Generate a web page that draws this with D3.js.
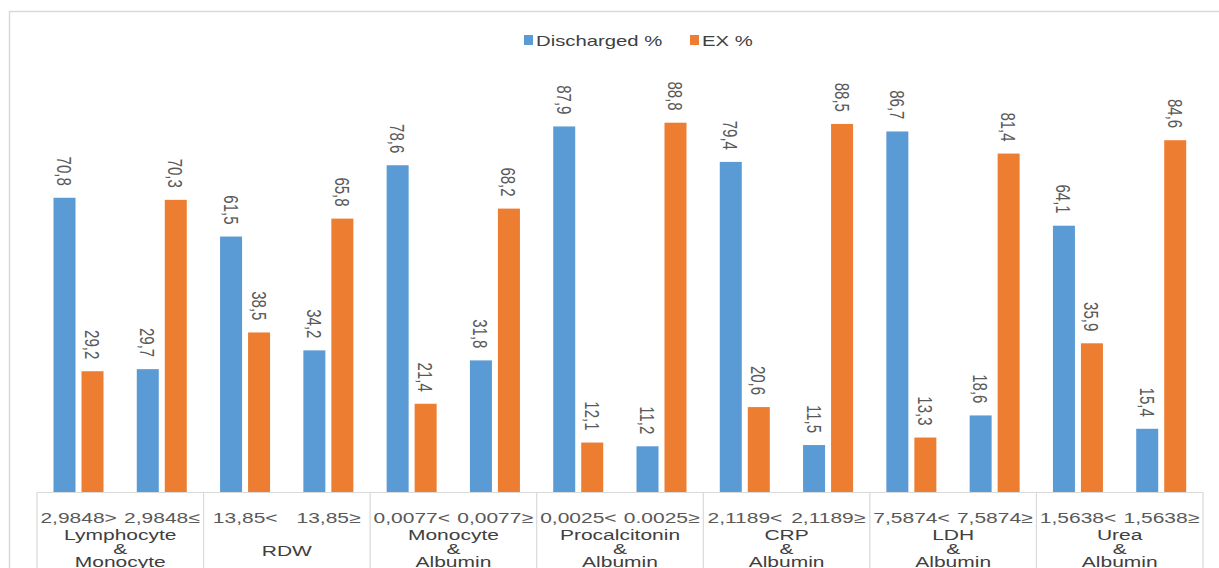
<!DOCTYPE html>
<html>
<head>
<meta charset="utf-8">
<script src="https://cdn.jsdelivr.net/npm/d3@7"></script>
<style>
  html, body { margin: 0; padding: 0; background: #fff; }
  svg { display: block; font-family: "Liberation Sans", Arial, sans-serif; }
</style>
</head>
<body>
<svg id="chart" width="1219" height="568"></svg>
<script>
// Marker groups (each split into two cut-off classes)
const groupNames = [
  "Lymphocyte & Monocyte", "RDW", "Monocyte & Albumin", "Procalcitonin & Albumin",
  "CRP & Albumin", "LDH & Albumin", "Urea & Albumin"
];
const cutoffs = [
  "2,9848>", "2,9848≤", "13,85<", "13,85≥", "0,0077<", "0,0077≥", "0,0025<", "0.0025≥",
  "2,1189<", "2,1189≥", "7,5874<", "7,5874≥", "1,5638<", "1,5638≥"
];
const seriesNames = ["Discharged %", "EX %"];
const discharged = [70.8, 29.7, 61.5, 34.2, 78.6, 31.8, 87.9, 11.2, 79.4, 11.5, 86.7, 18.6, 64.1, 15.4];
const exitus = [29.2, 70.3, 38.5, 65.8, 21.4, 68.2, 12.1, 88.8, 20.6, 88.5, 13.3, 81.4, 35.9, 84.6];

const colors = { "Discharged %": "#5b9bd5", "EX %": "#ed7d31" };
const XS = 1.4; // horizontal text stretch

const svg = d3.select("#chart");

// chart frame
svg.append("rect")
  .attr("x", 9.5).attr("y", 11.5).attr("width", 1300).attr("height", 700)
  .attr("fill", "none").attr("stroke", "#d9d9d9").attr("stroke-width", 1.5);

const x = d3.scaleBand().domain(d3.range(cutoffs.length)).range([37, 1203]).padding(0);
const xSeries = d3.scaleBand().domain(seriesNames).range([16.5, 66.5]).paddingInner(6 / 28);
const y = d3.scaleLinear().domain([0, 100]).range([493, 76]);

const rows = cutoffs.map((c, i) => ({ i, cutoff: c, values: [
  { key: "Discharged %", v: discharged[i] },
  { key: "EX %", v: exitus[i] }
]}));

const fmt = v => v.toFixed(1).replace(".", ",");

const cat = svg.append("g").selectAll("g").data(rows).join("g")
  .attr("transform", d => `translate(${x(d.i)},0)`);

cat.selectAll("rect").data(d => d.values).join("rect")
  .attr("x", d => xSeries(d.key))
  .attr("width", xSeries.bandwidth())
  .attr("y", d => y(d.v))
  .attr("height", d => y(0) - y(d.v))
  .attr("fill", d => colors[d.key]);

cat.selectAll("text.val").data(d => d.values).join("text")
  .attr("class", "val")
  .attr("transform", d => `translate(${xSeries(d.key) + xSeries.bandwidth() / 2},${y(d.v) - 12}) scale(${XS},1) rotate(90)`)
  .attr("text-anchor", "end")
  .attr("dominant-baseline", "central")
  .attr("font-size", 15)
  .attr("fill", "#595959")
  .text(d => fmt(d.v));

// category axis
const axisG = svg.append("g");
axisG.append("line")
  .attr("x1", x.range()[0]).attr("x2", x.range()[1])
  .attr("y1", y(0) - 0.5).attr("y2", y(0) - 0.5)
  .attr("stroke", "#d9d9d9").attr("stroke-width", 1.2);

const groupBounds = d3.range(groupNames.length + 1).map(g => g === groupNames.length ? x.range()[1] : x(g * 2));
axisG.selectAll("line.div").data(groupBounds).join("line")
  .attr("class", "div")
  .attr("x1", d => d).attr("x2", d => d)
  .attr("y1", y(0) - 0.5).attr("y2", 568)
  .attr("stroke", "#d9d9d9").attr("stroke-width", 1.2);

axisG.selectAll("text.cut").data(cutoffs).join("text")
  .attr("class", "cut")
  .attr("transform", (d, i) => `translate(${x(i) + x.bandwidth() / 2},523) scale(${XS},1)`)
  .attr("text-anchor", "middle")
  .attr("font-size", 15)
  .attr("fill", "#595959")
  .text(d => d);

const groupG = axisG.selectAll("g.grp").data(groupNames).join("g")
  .attr("class", "grp")
  .attr("transform", (d, g) => `translate(${x(g * 2) + x.bandwidth()},0)`);

groupG.each(function (name) {
  const parts = name.split(" & ");
  const lines = parts.length === 1 ? parts : [parts[0], "&", parts[1]];
  const base = lines.length === 1 ? 556 : 540;
  d3.select(this).selectAll("text").data(lines).join("text")
    .attr("transform", (t, k) => `translate(0,${base + k * 13.5}) scale(${XS},1)`)
    .attr("text-anchor", "middle")
    .attr("font-size", 15)
    .attr("fill", "#404040")
    .text(t => t);
});

// legend
const legend = svg.append("g");
const legendItems = [
  { key: "Discharged %", x: 524 },
  { key: "EX %", x: 690 }
];
legend.selectAll("rect").data(legendItems).join("rect")
  .attr("x", d => d.x).attr("y", 35).attr("width", 9).attr("height", 10)
  .attr("fill", d => colors[d.key]);
legend.selectAll("text").data(legendItems).join("text")
  .attr("transform", d => `translate(${d.x + 12},45.5) scale(${XS},1)`)
  .attr("font-size", 14.5)
  .attr("fill", "#404040")
  .text(d => d.key);
</script>
</body>
</html>
